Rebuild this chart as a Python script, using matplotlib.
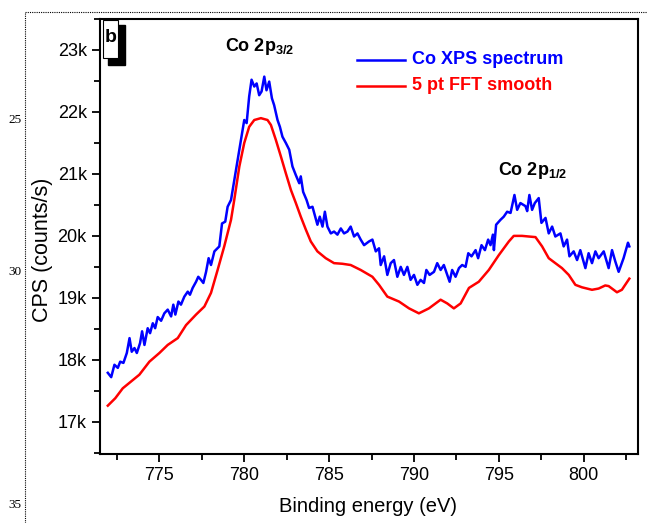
import matplotlib
matplotlib.use('Agg')
import matplotlib.pyplot as plt
from matplotlib.ticker import MultipleLocator, FuncFormatter
from matplotlib.patches import Rectangle
from matplotlib.lines import Line2D

plt.rcParams['font.family'] = ['Liberation Sans', 'DejaVu Sans']
plt.rcParams['mathtext.fontset'] = 'custom'
plt.rcParams['mathtext.bf'] = 'Liberation Sans:bold'
plt.rcParams['mathtext.rm'] = 'Liberation Sans:bold'

# Co XPS espectro, energia en eV, cuentas en k
energia_xps = [771.96, 772.16, 772.35, 772.55, 772.69, 772.88, 773.08, 773.24, 773.37, 773.53,
               773.67, 773.86, 773.98, 774.12, 774.31, 774.45, 774.61, 774.75, 774.9, 775.1,
               775.29, 775.49, 775.69, 775.82, 775.94, 776.12, 776.27, 776.47, 776.67, 776.8,
               776.96, 777.16, 777.29, 777.45, 777.59, 777.75, 777.9, 778.04, 778.24, 778.53,
               778.69, 778.88, 779.02, 779.22, 779.51, 779.8, 780.0, 780.14, 780.29, 780.43,
               780.59, 780.73, 780.88, 781.02, 781.18, 781.31, 781.47, 781.63, 781.76, 781.96,
               782.1, 782.25, 782.45, 782.65, 782.84, 783.04, 783.24, 783.33, 783.47, 783.67,
               783.82, 784.02, 784.18, 784.31, 784.45, 784.61, 784.75, 784.9, 785.1, 785.29,
               785.49, 785.69, 785.88, 786.08, 786.27, 786.47, 786.67, 786.86, 787.06, 787.35,
               787.55, 787.75, 787.94, 788.04, 788.24, 788.43, 788.63, 788.82, 789.02, 789.22,
               789.41, 789.61, 789.8, 790.0, 790.2, 790.39, 790.59, 790.73, 790.92, 791.18,
               791.37, 791.57, 791.76, 791.96, 792.1, 792.25, 792.45, 792.65, 792.84, 793.04,
               793.2, 793.39, 793.63, 793.78, 793.98, 794.18, 794.37, 794.51, 794.65, 794.71,
               794.84, 795.1, 795.29, 795.49, 795.69, 795.92, 796.08, 796.27, 796.57, 796.67,
               796.8, 796.96, 797.12, 797.35, 797.51, 797.75, 797.94, 798.14, 798.33, 798.63,
               798.82, 799.02, 799.16, 799.41, 799.61, 799.8, 800.1, 800.29, 800.49, 800.69,
               800.88, 801.18, 801.47, 801.67, 801.86, 802.06, 802.35, 802.61, 802.69]
cps_xps = [17.79, 17.72, 17.92, 17.87, 17.97, 17.95, 18.11, 18.35, 18.13, 18.19,
           18.11, 18.27, 18.46, 18.24, 18.51, 18.43, 18.59, 18.51, 18.69, 18.63,
           18.75, 18.81, 18.70, 18.89, 18.73, 18.94, 18.89, 19.02, 19.10, 19.05,
           19.16, 19.26, 19.34, 19.29, 19.24, 19.42, 19.64, 19.53, 19.75, 19.83,
           20.20, 20.23, 20.47, 20.58, 21.06, 21.55, 21.87, 21.82, 22.25, 22.52,
           22.41, 22.46, 22.27, 22.33, 22.57, 22.35, 22.49, 22.22, 22.11, 21.87,
           21.76, 21.60, 21.50, 21.39, 21.12, 20.98, 20.85, 20.96, 20.71, 20.58,
           20.45, 20.47, 20.31, 20.18, 20.31, 20.15, 20.39, 20.15, 20.04, 20.07,
           20.02, 20.12, 20.04, 20.07, 20.15, 19.99, 20.04, 19.94, 19.85, 19.91,
           19.94, 19.75, 19.80, 19.53, 19.67, 19.37, 19.56, 19.61, 19.34, 19.50,
           19.37, 19.50, 19.29, 19.37, 19.21, 19.29, 19.24, 19.45, 19.37, 19.42,
           19.56, 19.45, 19.53, 19.37, 19.26, 19.45, 19.34, 19.48, 19.53, 19.50,
           19.72, 19.67, 19.77, 19.64, 19.85, 19.77, 19.94, 19.85, 20.02, 19.77,
           20.18, 20.26, 20.31, 20.39, 20.37, 20.66, 20.42, 20.53, 20.48, 20.40,
           20.66, 20.42, 20.53, 20.61, 20.21, 20.29, 20.04, 20.15, 19.99, 20.04,
           19.83, 19.94, 19.67, 19.75, 19.61, 19.77, 19.48, 19.72, 19.56, 19.75,
           19.64, 19.75, 19.48, 19.77, 19.59, 19.42, 19.64, 19.89, 19.83]

# suavizado FFT de 5 puntos
energia_fft = [771.96, 772.4, 772.84, 773.33, 773.82, 774.41, 775.0, 775.49, 776.08, 776.57,
               777.16, 777.65, 778.04, 778.43, 778.82, 779.22, 779.41, 779.71, 780.0, 780.29,
               780.59, 780.98, 781.37, 781.57, 781.86, 782.16, 782.45, 782.75, 783.04, 783.33,
               783.63, 783.92, 784.31, 784.8, 785.29, 785.78, 786.27, 786.86, 787.55, 787.94,
               788.43, 789.12, 789.71, 790.29, 790.88, 791.57, 791.96, 792.35, 792.75, 793.24,
               793.82, 794.41, 795.0, 795.59, 795.88, 796.37, 796.76, 797.16, 797.55, 797.94,
               798.33, 798.72, 799.12, 799.51, 799.9, 800.49, 800.88, 801.27, 801.47, 801.96,
               802.25, 802.69]
cps_fft = [17.26, 17.38, 17.54, 17.65, 17.76, 17.97, 18.11, 18.24, 18.35, 18.56,
           18.73, 18.86, 19.08, 19.45, 19.83, 20.26, 20.58, 21.12, 21.50, 21.76,
           21.87, 21.90, 21.87, 21.79, 21.55, 21.28, 21.01, 20.74, 20.53, 20.31,
           20.10, 19.91, 19.75, 19.64, 19.56, 19.55, 19.53, 19.45, 19.34, 19.21,
           19.02, 18.94, 18.83, 18.75, 18.83, 18.97, 18.91, 18.83, 18.91, 19.16,
           19.26, 19.45, 19.69, 19.91, 20.00, 20.00, 19.99, 19.98, 19.83, 19.64,
           19.56, 19.48, 19.37, 19.21, 19.17, 19.13, 19.15, 19.20, 19.19, 19.09,
           19.13, 19.31]

W, H = 647, 523
fig = plt.figure(figsize=(W / 100, H / 100), dpi=100)
ax = fig.add_axes([100 / W, 1 - 454 / H, 538 / W, 435 / H])

ax.plot(energia_xps, cps_xps, color='#0000ff', lw=1.8)
ax.plot(energia_fft, cps_fft, color='#ff0000', lw=1.8)

ax.set_xlim(771.5, 803.2)
ax.set_ylim(16.48, 23.5)
ax.xaxis.set_major_locator(MultipleLocator(5))
ax.xaxis.set_minor_locator(MultipleLocator(2.5))
ax.yaxis.set_major_locator(MultipleLocator(1))
ax.yaxis.set_minor_locator(MultipleLocator(0.5))
ax.yaxis.set_major_formatter(FuncFormatter(lambda v, p: '%dk' % round(v)))
ax.tick_params(which='both', direction='out', width=1.3, labelsize=13)
ax.tick_params(which='major', length=6)
ax.tick_params(which='minor', length=4)
for s in ax.spines.values():
    s.set_linewidth(1.5)

ax.set_xlabel('Binding energy (eV)', fontsize=14.5)
ax.set_ylabel('CPS (counts/s)', fontsize=15.5)
ax.xaxis.set_label_coords(0.499, -0.10)
ax.yaxis.set_label_coords(-0.088, 0.469)

ax.text(780.9, 23.05, 'Co 2p$_{3/2}$', fontsize=13, fontweight='bold', ha='center', va='center')
ax.text(797.0, 21.05, 'Co 2p$_{1/2}$', fontsize=13, fontweight='bold', ha='center', va='center')

# leyenda a mano
fig.add_artist(Line2D([357 / W, 405 / W], [1 - 60 / H] * 2, color='#0000ff', lw=1.8))
fig.add_artist(Line2D([357 / W, 405 / W], [1 - 86 / H] * 2, color='#ff0000', lw=1.8))
fig.text(412 / W, 1 - 60 / H, 'Co XPS spectrum', color='#0000ff', fontsize=13,
         fontweight='bold', va='center')
fig.text(412 / W, 1 - 86 / H, '5 pt FFT smooth', color='#ff0000', fontsize=13,
         fontweight='bold', va='center')

# recuadro "b"
fig.add_artist(Rectangle((108 / W, 1 - 65 / H), 17 / W, 40 / H, transform=fig.transFigure,
                         facecolor='black', edgecolor='black'))
fig.add_artist(Rectangle((103 / W, 1 - 58 / H), 15 / W, 38 / H, transform=fig.transFigure,
                         facecolor='white', edgecolor='black', lw=0.8))
fig.text(111 / W, 1 - 38 / H, 'b', fontsize=14, fontweight='bold', ha='center', va='center')

# marco punteado de la pagina y numeros de linea
fig.add_artist(Line2D([25 / W, 1.0], [1 - 12 / H] * 2, color='black', lw=0.8, ls=(0, (1, 1))))
fig.add_artist(Line2D([25 / W, 25 / W], [0, 1 - 12 / H], color='black', lw=0.8, ls=(0, (1, 1))))
for n, yy in [('25', 120), ('30', 272), ('35', 505)]:
    fig.text(15 / W, 1 - yy / H, n, fontsize=9.5, family='Liberation Serif', ha='center', va='center')

fig.savefig('out.png', dpi=100)
